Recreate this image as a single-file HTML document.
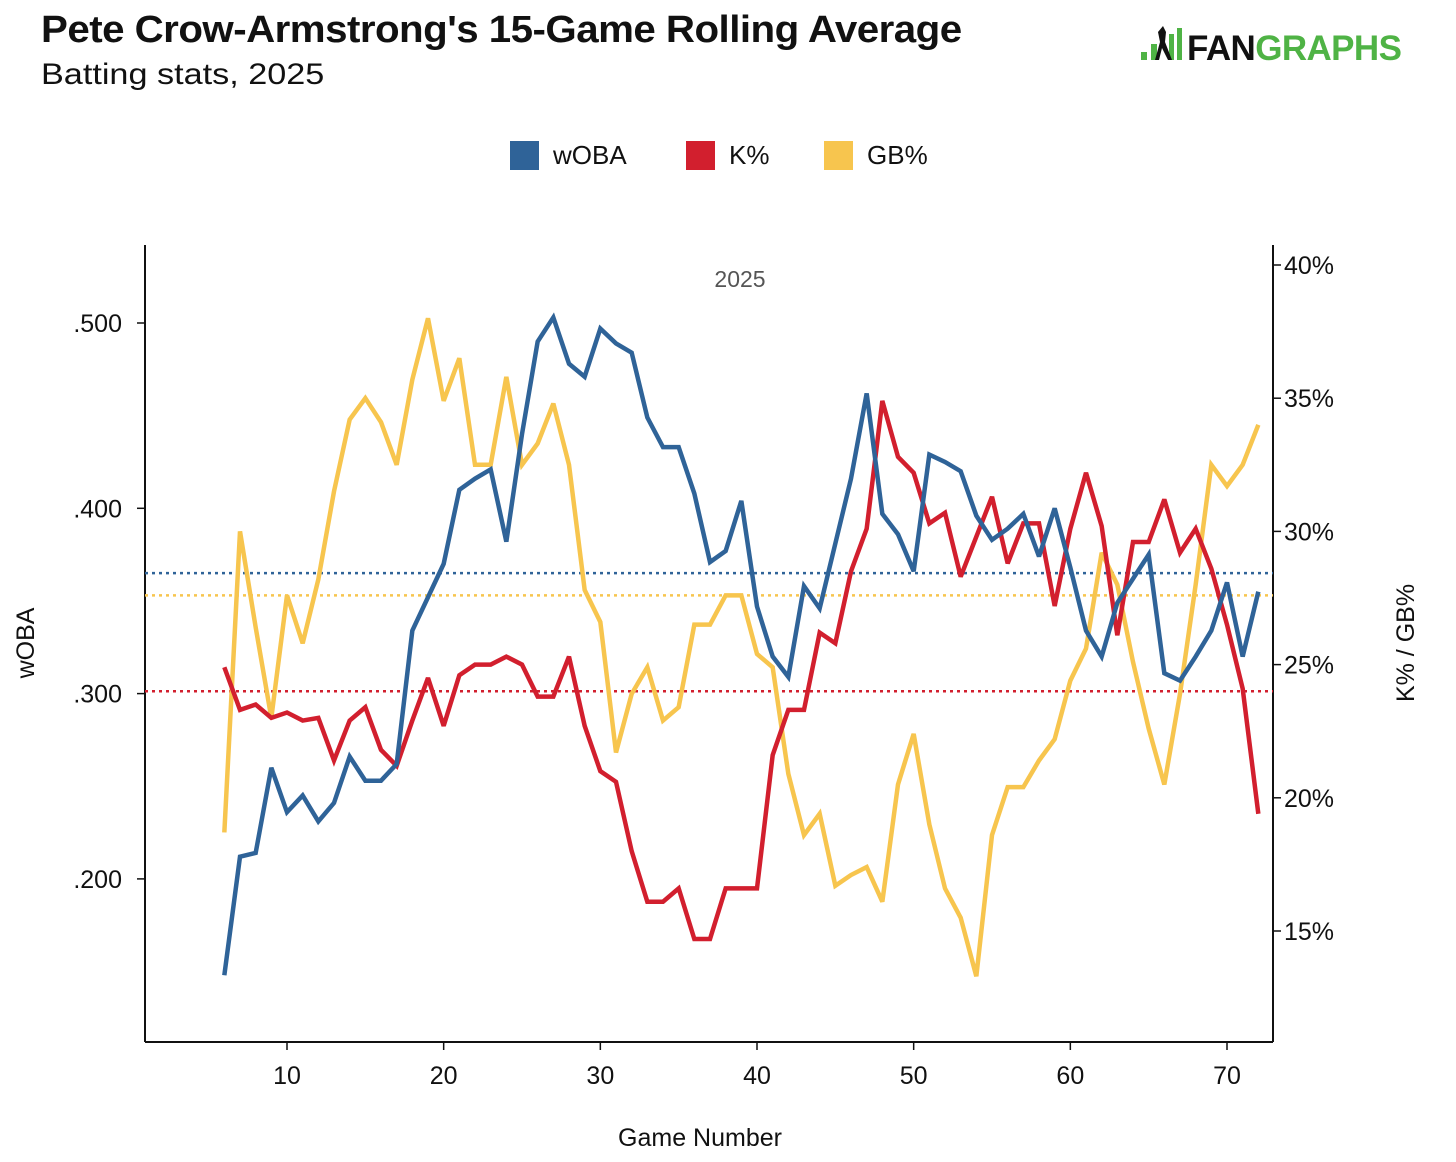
<!DOCTYPE html>
<html><head><meta charset="utf-8">
<style>
html,body{margin:0;padding:0;background:#fff;}
body{width:1456px;height:1162px;position:relative;overflow:hidden;font-family:"Liberation Sans",sans-serif;}
.title{position:absolute;left:41px;top:9px;font-size:38px;font-weight:bold;color:#111;letter-spacing:-0.5px;transform-origin:0 0;transform:scaleX(1.06);white-space:nowrap;}
.sub{position:absolute;left:41px;top:58px;font-size:30px;color:#111;transform-origin:0 0;transform:scaleX(1.14);white-space:nowrap;}
</style></head>
<body>
<div class="title">Pete Crow-Armstrong's 15-Game Rolling Average</div>
<div class="sub">Batting stats, 2025</div>
<svg id="chart" width="1456" height="1162" style="position:absolute;left:0;top:0" xmlns="http://www.w3.org/2000/svg" font-family="Liberation Sans, sans-serif">
  <g>
    <rect x="1141" y="52" width="6" height="8" fill="#4fb345"/>
    <rect x="1151" y="44" width="6" height="16" fill="#4fb345"/>
    <rect x="1169" y="34" width="5" height="26" fill="#4fb345"/>
    <rect x="1177" y="28" width="5" height="32" fill="#4fb345"/>
    <path d="M1155 60 L1160 42 L1158 32 L1163 26 L1166 32 L1165 42 L1172 60 L1168 60 L1162 48 L1159 60 Z" fill="#111"/>
    <text x="1187" y="60" font-size="35" font-weight="bold" fill="#111" letter-spacing="-0.6">FAN<tspan fill="#4fb345">GRAPHS</tspan></text>
  </g>
  <g id="legend"></g>
  <g id="plot"></g>
</svg>
<script>
const games = [];
for (let g = 6; g <= 72; g++) games.push(g);
const woba = [.148,.212,.214,.260,.236,.245,.231,.241,.266,.253,.253,.262,.334,.352,.370,.410,.416,.421,.382,.440,.490,.503,.478,.471,.497,.489,.484,.449,.433,.433,.408,.371,.377,.404,.347,.320,.309,.358,.346,.381,.416,.462,.397,.386,.366,.429,.425,.420,.396,.383,.389,.397,.374,.400,.368,.334,.320,.349,.362,.375,.311,.307,.320,.334,.360,.320,.355];
const kpct = [24.9,23.3,23.5,23.0,23.2,22.9,23.0,21.4,22.9,23.4,21.8,21.2,22.9,24.5,22.7,24.6,25.0,25.0,25.3,25.0,23.8,23.8,25.3,22.7,21.0,20.6,18.0,16.1,16.1,16.6,14.7,14.7,16.6,16.6,16.6,21.6,23.3,23.3,26.2,25.8,28.5,30.1,34.9,32.8,32.2,30.3,30.7,28.3,29.8,31.3,28.8,30.3,30.3,27.2,30.1,32.2,30.2,26.1,29.6,29.6,31.2,29.2,30.1,28.6,26.5,24.1,19.4];
const gbpct = [18.7,30.0,26.4,23.0,27.6,25.8,28.2,31.5,34.2,35.0,34.1,32.5,35.7,38.0,34.9,36.5,32.5,32.5,35.8,32.5,33.3,34.8,32.5,27.8,26.6,21.7,23.9,24.9,22.9,23.4,26.5,26.5,27.6,27.6,25.4,24.9,20.9,18.6,19.4,16.7,17.1,17.4,16.1,20.5,22.4,19.0,16.6,15.5,13.3,18.6,20.4,20.4,21.4,22.2,24.4,25.6,29.2,28.0,25.1,22.6,20.5,23.9,28.0,32.5,31.7,32.5,34.0];
const avgWoba = .365, avgK = 24.0, avgGB = 27.6;
const xTicks = [10,20,30,40,50,60,70];
const yLeftTicks = [.2,.3,.4,.5];
const yLeftLabels = ['.200','.300','.400','.500'];
const yRightTicks = [15,20,25,30,35,40];

const NS = 'http://www.w3.org/2000/svg';
const L = 145, R = 1273, T = 245, B = 1042;
const x = g => 287 + (g - 10) * (940 / 60);
const yL = v => 323 + (0.5 - v) * 1853;
const yR = v => 265 + (40 - v) * 26.64;
const plot = document.getElementById('plot');
function mk(tag, attrs, parent) {
  const e = document.createElementNS(NS, tag);
  for (const k in attrs) e.setAttribute(k, attrs[k]);
  (parent || plot).appendChild(e);
  return e;
}
let ax = mk('line', {x1:L, y1:T, x2:L, y2:B, stroke:'#111', 'stroke-width':2});


ax = mk('line', {x1:R, y1:T, x2:R, y2:B, stroke:'#111', 'stroke-width':2});


ax = mk('line', {x1:L, y1:B, x2:R, y2:B, stroke:'#111', 'stroke-width':2});



xTicks.forEach(t => {
  mk('line', {x1:x(t), y1:B, x2:x(t), y2:B+8, stroke:'#111', 'stroke-width':1.5});
  const tx = mk('text', {x:x(t), y:B+42, 'text-anchor':'middle', 'font-size':25, fill:'#111'});
  tx.textContent = t;
  
  
});
yLeftTicks.forEach((t, i) => {
  mk('line', {x1:L-8, y1:yL(t), x2:L, y2:yL(t), stroke:'#111', 'stroke-width':1.5});
  const tx = mk('text', {x:122, y:yL(t)+9, 'text-anchor':'end', 'font-size':25, fill:'#111'});
  tx.textContent = yLeftLabels[i];
  
  
});
yRightTicks.forEach(t => {
  mk('line', {x1:R, y1:yR(t), x2:R+8, y2:yR(t), stroke:'#111', 'stroke-width':1.5});
  const tx = mk('text', {x:1284, y:yR(t)+9, 'font-size':25, fill:'#111'});
  tx.textContent = t + '%';
  
  
});
let at = mk('text', {x:700, y:1146, 'text-anchor':'middle', 'font-size':25, fill:'#111'});
at.textContent = 'Game Number';


at = mk('text', {x:0, y:0, 'text-anchor':'middle', 'font-size':25, fill:'#111', transform:'translate(34,643) rotate(-90)'});
at.textContent = 'wOBA';


at = mk('text', {x:0, y:0, 'text-anchor':'middle', 'font-size':25, fill:'#111', transform:'translate(1414,643) rotate(-90)'});
at.textContent = 'K% / GB%';


at = mk('text', {x:740, y:287, 'text-anchor':'middle', 'font-size':23, fill:'#555'});
at.textContent = '2025';



const BLUE = '#2f6398', RED = '#d21f2e', YEL = '#f7c54e';
let al = mk('line', {x1:L, y1:yL(avgWoba), x2:R, y2:yL(avgWoba), stroke:BLUE, 'stroke-width':2.5, 'stroke-dasharray':'3 4'});


al = mk('line', {x1:L, y1:yR(avgGB), x2:R, y2:yR(avgGB), stroke:YEL, 'stroke-width':2.5, 'stroke-dasharray':'3 4'});


al = mk('line', {x1:L, y1:yR(avgK), x2:R, y2:yR(avgK), stroke:RED, 'stroke-width':2.5, 'stroke-dasharray':'3 4'});



function series(vals, yf, color) {
  return mk('polyline', {points: vals.map((v, i) => x(games[i]) + ',' + yf(v)).join(' '), fill:'none', stroke:color, 'stroke-width':4.5, 'stroke-linejoin':'miter', 'stroke-miterlimit':3});
}
let s = series(gbpct, yR, YEL);


s = series(kpct, yR, RED);


s = series(woba, yL, BLUE);



const leg = document.getElementById('legend');
const legendItems = [['wOBA', BLUE, 510], ['K%', RED, 686], ['GB%', YEL, 824]];
legendItems.forEach(([name, c, lx]) => {
  const g = mk('g', {}, leg);
  
  
  mk('rect', {x:lx, y:141, width:29, height:29, fill:c}, g);
  const t = mk('text', {x:lx+43, y:164, 'font-size':26, fill:'#111'}, g);
  t.textContent = name;
});
</script>
</body></html>
